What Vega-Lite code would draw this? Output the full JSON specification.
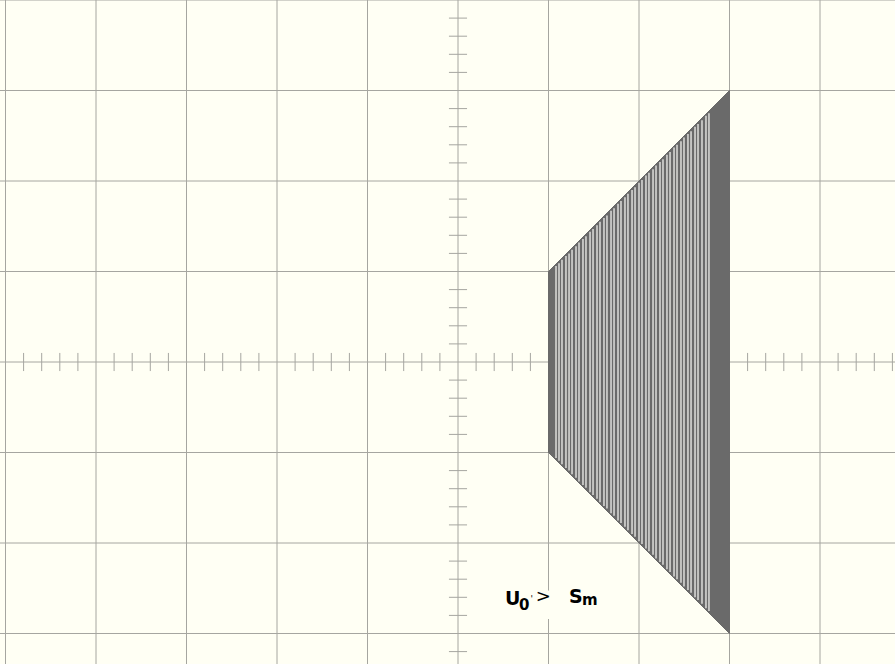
{
  "$schema": "https://vega.github.io/schema/vega-lite/v6.json",
  "width": 895,
  "height": 664,
  "autosize": {"type": "none"},
  "padding": 0,
  "background": "#FFFFF4",
  "config": {"view": {"stroke": null}},
  "datasets": {
    "vgrid": [{"g": -5}, {"g": -4}, {"g": -3}, {"g": -2}, {"g": -1}, {"g": 0}, {"g": 1}, {"g": 2}, {"g": 3}, {"g": 4}],
    "hgrid": [{"g": -3}, {"g": -2}, {"g": -1}, {"g": 0}, {"g": 1}, {"g": 2}, {"g": 3}, {"g": 4}],
    "xticks": [
      {"p": -4.8}, {"p": -4.6}, {"p": -4.4}, {"p": -4.2},
      {"p": -3.8}, {"p": -3.6}, {"p": -3.4}, {"p": -3.2},
      {"p": -2.8}, {"p": -2.6}, {"p": -2.4}, {"p": -2.2},
      {"p": -1.8}, {"p": -1.6}, {"p": -1.4}, {"p": -1.2},
      {"p": -0.8}, {"p": -0.6}, {"p": -0.4}, {"p": -0.2},
      {"p": 0.2}, {"p": 0.4}, {"p": 0.6}, {"p": 0.8},
      {"p": 1.2}, {"p": 1.4}, {"p": 1.6}, {"p": 1.8},
      {"p": 2.2}, {"p": 2.4}, {"p": 2.6}, {"p": 2.8},
      {"p": 3.2}, {"p": 3.4}, {"p": 3.6}, {"p": 3.8},
      {"p": 4.2}, {"p": 4.4}, {"p": 4.6}, {"p": 4.8}
    ],
    "yticks": [
      {"p": -3.2},
      {"p": -2.8}, {"p": -2.6}, {"p": -2.4}, {"p": -2.2},
      {"p": -1.8}, {"p": -1.6}, {"p": -1.4}, {"p": -1.2},
      {"p": -0.8}, {"p": -0.6}, {"p": -0.4}, {"p": -0.2},
      {"p": 0.2}, {"p": 0.4}, {"p": 0.6}, {"p": 0.8},
      {"p": 1.2}, {"p": 1.4}, {"p": 1.6}, {"p": 1.8},
      {"p": 2.2}, {"p": 2.4}, {"p": 2.6}, {"p": 2.8},
      {"p": 3.2}, {"p": 3.4}, {"p": 3.6}, {"p": 3.8}
    ],
    "trace": [{"u": 1, "top": 1, "bot": -1}, {"u": 3, "top": 3, "bot": -3}],
    "streaks": [
      {"u": 1.083, "top": 1.06, "bot": -1.06},
      {"u": 1.116, "top": 1.09, "bot": -1.09},
      {"u": 1.149, "top": 1.13, "bot": -1.13},
      {"u": 1.193, "top": 1.17, "bot": -1.17},
      {"u": 1.227, "top": 1.2, "bot": -1.2},
      {"u": 1.26, "top": 1.24, "bot": -1.24},
      {"u": 1.304, "top": 1.28, "bot": -1.28},
      {"u": 1.337, "top": 1.32, "bot": -1.32},
      {"u": 1.381, "top": 1.36, "bot": -1.36},
      {"u": 1.414, "top": 1.39, "bot": -1.39},
      {"u": 1.459, "top": 1.44, "bot": -1.44},
      {"u": 1.492, "top": 1.47, "bot": -1.47},
      {"u": 1.536, "top": 1.51, "bot": -1.51},
      {"u": 1.569, "top": 1.55, "bot": -1.55},
      {"u": 1.613, "top": 1.59, "bot": -1.59},
      {"u": 1.646, "top": 1.62, "bot": -1.62},
      {"u": 1.691, "top": 1.67, "bot": -1.67},
      {"u": 1.724, "top": 1.7, "bot": -1.7},
      {"u": 1.768, "top": 1.75, "bot": -1.75},
      {"u": 1.801, "top": 1.78, "bot": -1.78},
      {"u": 1.845, "top": 1.82, "bot": -1.82},
      {"u": 1.878, "top": 1.86, "bot": -1.86},
      {"u": 1.923, "top": 1.9, "bot": -1.9},
      {"u": 1.956, "top": 1.93, "bot": -1.93},
      {"u": 2.0, "top": 1.98, "bot": -1.98},
      {"u": 2.033, "top": 2.01, "bot": -2.01},
      {"u": 2.077, "top": 2.06, "bot": -2.06},
      {"u": 2.11, "top": 2.09, "bot": -2.09},
      {"u": 2.155, "top": 2.13, "bot": -2.13},
      {"u": 2.188, "top": 2.17, "bot": -2.17},
      {"u": 2.232, "top": 2.21, "bot": -2.21},
      {"u": 2.265, "top": 2.24, "bot": -2.24},
      {"u": 2.309, "top": 2.29, "bot": -2.29},
      {"u": 2.343, "top": 2.32, "bot": -2.32},
      {"u": 2.387, "top": 2.37, "bot": -2.37},
      {"u": 2.42, "top": 2.4, "bot": -2.4},
      {"u": 2.464, "top": 2.44, "bot": -2.44},
      {"u": 2.497, "top": 2.48, "bot": -2.48},
      {"u": 2.541, "top": 2.52, "bot": -2.52},
      {"u": 2.575, "top": 2.55, "bot": -2.55},
      {"u": 2.619, "top": 2.6, "bot": -2.6},
      {"u": 2.652, "top": 2.63, "bot": -2.63},
      {"u": 2.696, "top": 2.67, "bot": -2.67},
      {"u": 2.74, "top": 2.72, "bot": -2.72},
      {"u": 2.773, "top": 2.75, "bot": -2.75}
    ],
    "mask": [{"a": 0.5, "b": 1.5, "c": -2.525, "d": -2.84}],
    "main": [{"t": "U", "u": 0.519, "v": -2.682}, {"t": "S", "u": 1.227, "v": -2.663}],
    "gt": [{"t": ">", "u": 0.859, "v": -2.652}],
    "sub": [{"t": "0", "u": 0.674, "v": -2.74}, {"t": "m", "u": 1.37, "v": -2.682}],
    "prime": [{"t": "'", "u": 0.8, "v": -2.57}]
  },
  "layer": [
    {
      "data": {"name": "vgrid"},
      "mark": {"type": "rule", "color": "#A6A6A0", "strokeWidth": 1},
      "encoding": {
        "x": {"field": "g", "type": "quantitative", "scale": {"domain": [-5.0608, 4.8287], "nice": false, "zero": false}, "axis": null}
      }
    },
    {
      "data": {"name": "hgrid"},
      "mark": {"type": "rule", "color": "#A6A6A0", "strokeWidth": 1},
      "encoding": {
        "y": {"field": "g", "type": "quantitative", "scale": {"domain": [-3.337, 4.0], "nice": false, "zero": false}, "axis": null}
      }
    },
    {
      "data": {"name": "xticks"},
      "mark": {"type": "rule", "color": "#A6A6A0", "strokeWidth": 1},
      "encoding": {
        "x": {"field": "p", "type": "quantitative", "scale": {"domain": [-5.0608, 4.8287], "nice": false, "zero": false}, "axis": null},
        "y": {"datum": -0.1, "type": "quantitative", "scale": {"domain": [-3.337, 4.0], "nice": false, "zero": false}, "axis": null},
        "y2": {"datum": 0.1}
      }
    },
    {
      "data": {"name": "yticks"},
      "mark": {"type": "rule", "color": "#A6A6A0", "strokeWidth": 1},
      "encoding": {
        "y": {"field": "p", "type": "quantitative", "scale": {"domain": [-3.337, 4.0], "nice": false, "zero": false}, "axis": null},
        "x": {"datum": -0.1, "type": "quantitative", "scale": {"domain": [-5.0608, 4.8287], "nice": false, "zero": false}, "axis": null},
        "x2": {"datum": 0.1}
      }
    },
    {
      "data": {"name": "trace"},
      "mark": {"type": "area", "color": "#6A6A6A", "stroke": "#6A6A6A", "strokeWidth": 1},
      "encoding": {
        "x": {"field": "u", "type": "quantitative", "scale": {"domain": [-5.0608, 4.8287], "nice": false, "zero": false}, "axis": null},
        "y": {"field": "top", "type": "quantitative", "scale": {"domain": [-3.337, 4.0], "nice": false, "zero": false}, "axis": null},
        "y2": {"field": "bot"}
      }
    },
    {
      "data": {"name": "streaks"},
      "mark": {"type": "rule", "color": "#F2F2EE", "strokeWidth": 1.5, "opacity": 0.85},
      "encoding": {
        "x": {"field": "u", "type": "quantitative", "scale": {"domain": [-5.0608, 4.8287], "nice": false, "zero": false}, "axis": null},
        "y": {"field": "top", "type": "quantitative", "scale": {"domain": [-3.337, 4.0], "nice": false, "zero": false}, "axis": null},
        "y2": {"field": "bot"}
      }
    },
    {
      "data": {"name": "mask"},
      "mark": {"type": "rect", "color": "#FFFFF4"},
      "encoding": {
        "x": {"field": "a", "type": "quantitative", "scale": {"domain": [-5.0608, 4.8287], "nice": false, "zero": false}, "axis": null},
        "x2": {"field": "b"},
        "y": {"field": "c", "type": "quantitative", "scale": {"domain": [-3.337, 4.0], "nice": false, "zero": false}, "axis": null},
        "y2": {"field": "d"}
      }
    },
    {
      "data": {"name": "main"},
      "mark": {"type": "text", "font": "DejaVu Sans", "fontWeight": "bold", "fontSize": 19, "align": "left", "baseline": "alphabetic", "color": "#000000"},
      "encoding": {
        "x": {"field": "u", "type": "quantitative", "scale": {"domain": [-5.0608, 4.8287], "nice": false, "zero": false}, "axis": null},
        "y": {"field": "v", "type": "quantitative", "scale": {"domain": [-3.337, 4.0], "nice": false, "zero": false}, "axis": null},
        "text": {"field": "t"}
      }
    },
    {
      "data": {"name": "gt"},
      "mark": {"type": "text", "font": "DejaVu Sans", "fontSize": 18, "align": "left", "baseline": "alphabetic", "color": "#000000"},
      "encoding": {
        "x": {"field": "u", "type": "quantitative", "scale": {"domain": [-5.0608, 4.8287], "nice": false, "zero": false}, "axis": null},
        "y": {"field": "v", "type": "quantitative", "scale": {"domain": [-3.337, 4.0], "nice": false, "zero": false}, "axis": null},
        "text": {"field": "t"}
      }
    },
    {
      "data": {"name": "sub"},
      "mark": {"type": "text", "font": "DejaVu Sans", "fontWeight": "bold", "fontSize": 15, "align": "left", "baseline": "alphabetic", "color": "#000000"},
      "encoding": {
        "x": {"field": "u", "type": "quantitative", "scale": {"domain": [-5.0608, 4.8287], "nice": false, "zero": false}, "axis": null},
        "y": {"field": "v", "type": "quantitative", "scale": {"domain": [-3.337, 4.0], "nice": false, "zero": false}, "axis": null},
        "text": {"field": "t"}
      }
    },
    {
      "data": {"name": "prime"},
      "mark": {"type": "text", "font": "DejaVu Sans", "fontSize": 9, "align": "left", "baseline": "top", "color": "#000000"},
      "encoding": {
        "x": {"field": "u", "type": "quantitative", "scale": {"domain": [-5.0608, 4.8287], "nice": false, "zero": false}, "axis": null},
        "y": {"field": "v", "type": "quantitative", "scale": {"domain": [-3.337, 4.0], "nice": false, "zero": false}, "axis": null},
        "text": {"field": "t"}
      }
    }
  ]
}
